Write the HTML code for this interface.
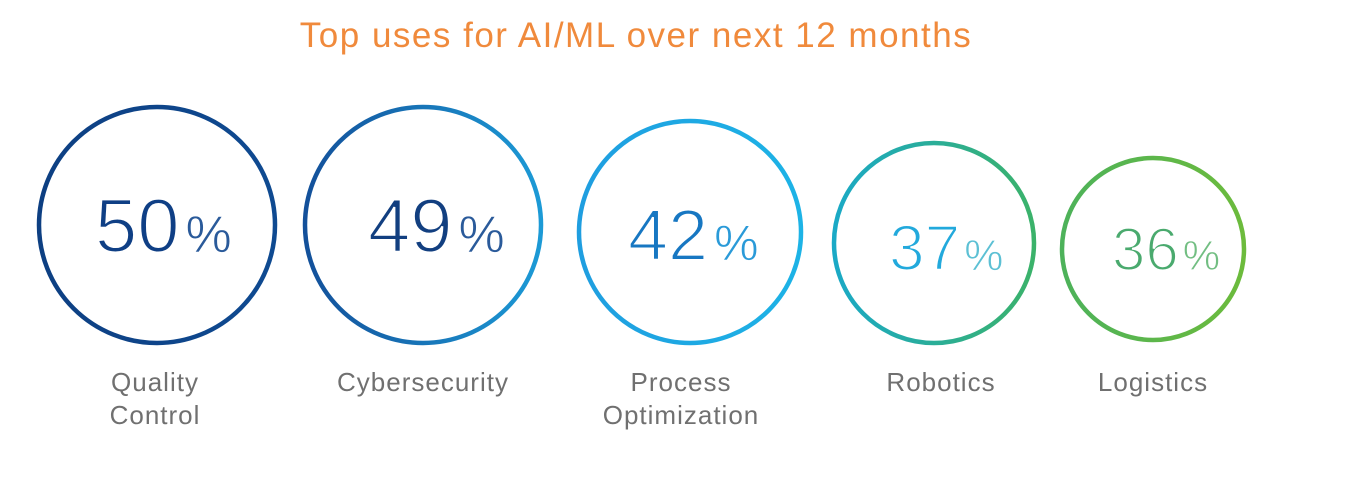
<!DOCTYPE html>
<html><head><style>
body{margin:0;background:#fff;}
svg{display:block}
text{font-family:"Liberation Sans",sans-serif;}
.n{stroke:#fff;stroke-width:2;paint-order:normal;}
.n tspan{stroke-width:0.8;}
</style></head><body>
<svg width="1357" height="486" viewBox="0 0 1357 486" xmlns="http://www.w3.org/2000/svg">
<defs>
<linearGradient id="g1" x1="0" y1="0" x2="1" y2="0"><stop offset="0" stop-color="#0d3f82"/><stop offset="1" stop-color="#0f4a91"/></linearGradient>
<linearGradient id="g2" x1="0" y1="0" x2="1" y2="0"><stop offset="0" stop-color="#13509a"/><stop offset="1" stop-color="#1c9ad6"/></linearGradient>
<linearGradient id="g3" x1="0" y1="0" x2="1" y2="0"><stop offset="0" stop-color="#1f9ee0"/><stop offset="1" stop-color="#1db3e6"/></linearGradient>
<linearGradient id="g4" x1="0" y1="0" x2="1" y2="0"><stop offset="0" stop-color="#1aa9c6"/><stop offset="1" stop-color="#3bb26a"/></linearGradient>
<linearGradient id="g5" x1="0" y1="0" x2="1" y2="0"><stop offset="0" stop-color="#4db25a"/><stop offset="1" stop-color="#6cbb3c"/></linearGradient>
</defs>
<text x="636" y="47" text-anchor="middle" font-size="35" fill="#f08a3c" letter-spacing="1.5">Top uses for AI/ML over next 12 months</text>
<g fill="none" stroke-width="4.5">
<circle cx="157" cy="225" r="118" stroke="url(#g1)"/>
<circle cx="423" cy="225" r="118" stroke="url(#g2)"/>
<circle cx="690" cy="232" r="111" stroke="url(#g3)"/>
<circle cx="934" cy="243" r="100" stroke="url(#g4)"/>
<circle cx="1153" cy="249" r="91" stroke="url(#g5)"/>
</g>
<text class="n" x="95" y="252" font-size="76" fill="#0f3f85">50<tspan font-size="52" fill="#2a5a9a" dx="6">%</tspan></text>
<text class="n" x="368" y="252" font-size="76" fill="#123f80">49<tspan font-size="52" fill="#2a5a9a" dx="6">%</tspan></text>
<text class="n" x="628" y="260" font-size="72" fill="#1777c2">42<tspan font-size="50" fill="#2a9ad8" dx="6">%</tspan></text>
<text class="n" x="889" y="270" font-size="64" fill="#22a9dc">37<tspan font-size="44" fill="#5cc0d4" dx="4">%</tspan></text>
<text class="n" x="1112" y="270" font-size="60" fill="#4aaa6e">36<tspan font-size="42" fill="#72be82" dx="4">%</tspan></text>
<g font-size="26" fill="#707070" text-anchor="middle" letter-spacing="1">
<text x="155" y="391">Quality</text>
<text x="155" y="424">Control</text>
<text x="423" y="391">Cybersecurity</text>
<text x="681" y="391">Process</text>
<text x="681" y="424">Optimization</text>
<text x="941" y="391">Robotics</text>
<text x="1153" y="391">Logistics</text>
</g>
</svg>
</body></html>
